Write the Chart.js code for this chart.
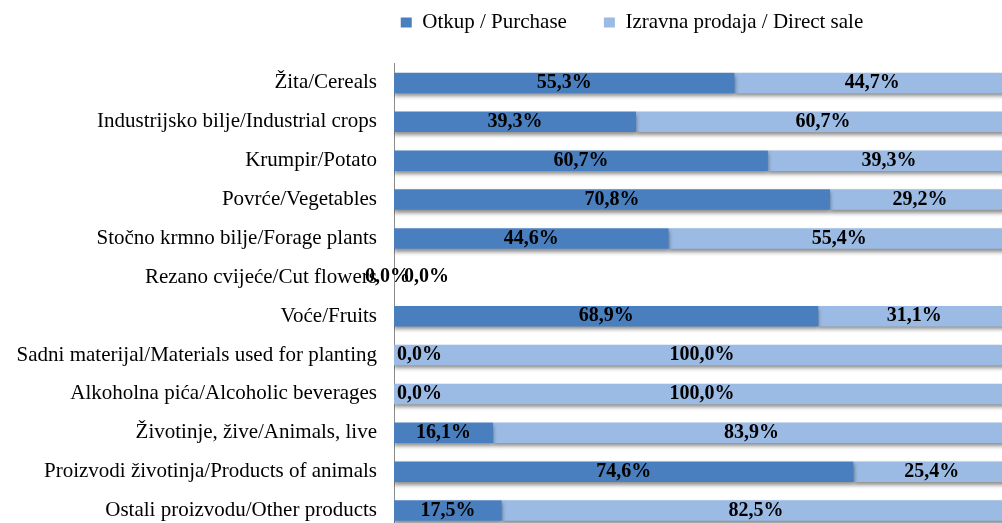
<!DOCTYPE html>
<html>
<head>
<meta charset="utf-8">
<script src="https://cdn.jsdelivr.net/npm/chart.js@4.4.0/dist/chart.umd.min.js"></script>
<style>
  html, body { margin: 0; padding: 0; background: #fff; overflow: hidden; }
  canvas { display: block; }
</style>
</head>
<body>
<canvas id="myChart" width="1012" height="532"></canvas>
<script>
const kategorije = [
  'Žita/Cereals',
  'Industrijsko bilje/Industrial crops',
  'Krumpir/Potato',
  'Povrće/Vegetables',
  'Stočno krmno bilje/Forage plants',
  'Rezano cvijeće/Cut flowers',
  'Voće/Fruits',
  'Sadni materijal/Materials used for planting',
  'Alkoholna pića/Alcoholic beverages',
  'Životinje, žive/Animals, live',
  'Proizvodi životinja/Products of animals',
  'Ostali proizvodu/Other products'
];
const otkup = [55.3, 39.3, 60.7, 70.8, 44.6, 0.0, 68.9, 0.0, 0.0, 16.1, 74.6, 17.5];
const izravna = [44.7, 60.7, 39.3, 29.2, 55.4, 0.0, 31.1, 100.0, 100.0, 83.9, 25.4, 82.5];

const serif = "'Liberation Serif', 'Times New Roman', serif";

// shadow under the bars
const sjena = {
  id: 'sjena',
  beforeDatasetsDraw(chart) {
    const ctx = chart.ctx;
    ctx.save();
    ctx.shadowColor = 'rgba(0,0,0,0.45)';
    ctx.shadowBlur = 4;
    ctx.shadowOffsetY = 3;
  },
  afterDatasetsDraw(chart) {
    chart.ctx.restore();
  }
};

// percentage labels on the bars
const oznake = {
  id: 'oznake',
  afterDatasetsDraw(chart) {
    const ctx = chart.ctx;
    ctx.save();
    ctx.font = 'bold 20px ' + serif;
    ctx.fillStyle = '#000';
    ctx.textBaseline = 'middle';
    chart.data.datasets.forEach((ds, di) => {
      chart.getDatasetMeta(di).data.forEach((bar, i) => {
        const v = ds.data[i];
        const txt = v.toFixed(1).replace('.', ',') + '%';
        const lijevo = Math.min(bar.x, bar.base);
        if (v === 0) {
          const oba = otkup[i] === 0 && izravna[i] === 0;
          if (oba) {
            ctx.textAlign = di === 0 ? 'right' : 'left';
            ctx.fillText(txt, lijevo + (di === 0 ? 16 : 10), bar.y);
          } else {
            ctx.textAlign = 'left';
            ctx.fillText(txt, lijevo + 3, bar.y);
          }
        } else {
          ctx.textAlign = 'center';
          ctx.fillText(txt, (bar.x + bar.base) / 2, bar.y);
        }
      });
    });
    ctx.restore();
  }
};

// legend placement like the original
const legenda = {
  id: 'legenda',
  beforeInit(chart) {
    const lg = chart.legend;
    if (lg && !lg._patched) {
      const fit = lg.fit;
      lg.fit = function () { fit.call(this); this.height -= 6.5; };
      lg._patched = true;
    }
  },
  beforeDraw(chart) {
    const lg = chart.legend;
    lg.left = 126;
    lg.right = 1012 + 126;
    lg.top = -25;
  }
};

new Chart(document.getElementById('myChart'), {
  type: 'bar',
  data: {
    labels: kategorije,
    datasets: [
      {
        label: 'Otkup / Purchase',
        data: otkup,
        backgroundColor: '#4a7fbf',
        barPercentage: 0.53,
        categoryPercentage: 1
      },
      {
        label: 'Izravna prodaja / Direct sale',
        data: izravna,
        backgroundColor: '#9bbbe4',
        barPercentage: 0.53,
        categoryPercentage: 1
      }
    ]
  },
  options: {
    indexAxis: 'y',
    responsive: false,
    animation: false,
    layout: { padding: { top: 2, left: 0, right: 2, bottom: 2 } },
    plugins: {
      legend: {
        position: 'top',
        align: 'center',
        labels: {
          boxWidth: 11,
          boxHeight: 10,
          padding: 37,
          color: '#000',
          font: { family: serif, size: 21 }
        }
      },
      tooltip: { enabled: false }
    },
    scales: {
      x: {
        stacked: true,
        display: false,
        min: 0,
        max: 100
      },
      y: {
        stacked: true,
        grid: { display: true, drawOnChartArea: false, drawTicks: false },
        border: { display: true, color: '#8c8c8c', width: 1 },
        ticks: {
          color: '#000',
          padding: 17,
          font: { family: serif, size: 21 }
        },
        afterFit(scale) {
          scale.width = 394;
          scale.paddingTop = 0;
          scale.paddingBottom = 0;
        }
      }
    }
  },
  plugins: [sjena, oznake, legenda]
});
</script>
</body>
</html>
